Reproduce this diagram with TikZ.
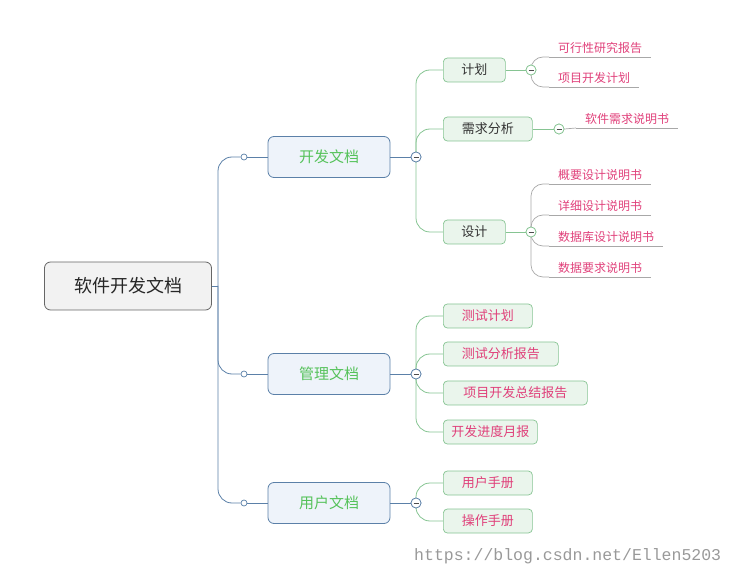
\documentclass[tikz,border=0pt]{standalone}
\usepackage{fontspec}
\setmainfont{Noto Sans CJK SC}
\newfontfamily\wm{Liberation Mono}
\definecolor{bblue}{HTML}{5B80A8}
\definecolor{bfill}{HTML}{EEF3FA}
\definecolor{gtext}{HTML}{55C25A}
\definecolor{gbord}{HTML}{86C492}
\definecolor{gfill}{HTML}{EAF5EC}
\definecolor{pink}{HTML}{E0407A}
\definecolor{lgray}{HTML}{A8A8A8}
\begin{document}
\begin{tikzpicture}[x=1pt,y=-1pt,
  rootbox/.style={draw=black!60,fill=black!5,rounded corners=6pt,minimum width=167pt,minimum height=48pt,font=\fontsize{18}{20}\selectfont,text=black!85,line width=0.8pt},
  lone/.style={draw=bblue,fill=bfill,rounded corners=6pt,minimum width=122pt,minimum height=41pt,font=\fontsize{15}{17}\selectfont,text=gtext,line width=0.8pt},
  ltwo/.style={draw=gbord,fill=gfill,rounded corners=4pt,minimum height=24pt,inner xsep=8pt,anchor=west,font=\fontsize{13}{15}\selectfont,text=black!80,line width=0.7pt},
  leaf/.style={anchor=south west,inner xsep=9pt,inner ysep=3pt,font=\fontsize{12}{14}\selectfont,text=pink},
  ul/.style={draw=lgray,line width=0.6pt},
  bl/.style={draw=bblue,line width=0.8pt},
  gl/.style={draw=gbord,line width=0.8pt},
  cl/.style={draw=lgray,line width=0.7pt},
  col/.style={circle,draw=#1,fill=white,minimum size=10pt,inner sep=0pt,line width=0.7pt,
    path picture={\draw[black!70,line width=0.9pt] ([xshift=-2.5pt]path picture bounding box.center) -- ([xshift=2.5pt]path picture bounding box.center);}},
  dot/.style={circle,draw=bblue,fill=white,minimum size=6pt,inner sep=0pt,line width=0.7pt}]
\useasboundingbox (0,0) rectangle (734,577);
% root
\node[rootbox] (root) at (128,286) {软件开发文档};
\coordinate (tr) at (218,286);
% level 1
\node[lone] (d) at (329,157) {开发文档};
\node[lone] (m) at (329,374) {管理文档};
\node[lone] (u) at (329,503) {用户文档};
\node[dot] (dd) at (244,157) {};
\node[dot] (dm) at (244,374) {};
\node[dot] (du) at (244,503) {};
\draw[bl] (root.east) -- (tr);
\foreach \a in {dd,dm,du}{\draw[bl,rounded corners=14pt] (tr) |- (\a.west);}
\draw[bl] (dd) -- (d.west); \draw[bl] (dm) -- (m.west); \draw[bl] (du) -- (u.west);
\node[col=bblue] (cd) at (416,157) {};
\node[col=bblue] (cm) at (416,374) {};
\node[col=bblue] (cu) at (416,503) {};
\draw[bl] (d.east) -- (cd.west); \draw[bl] (m.east) -- (cm.west); \draw[bl] (u.east) -- (cu.west);
% level 2
\node[ltwo,minimum width=62pt] (p) at (443,70) {计划};
\node[ltwo,minimum width=89pt] (r) at (443,129) {需求分析};
\node[ltwo,minimum width=62pt] (s) at (443,232) {设计};
\node[ltwo,minimum width=89pt,text=pink] (m1) at (443,316) {测试计划};
\node[ltwo,minimum width=115pt,text=pink] (m2) at (443,354) {测试分析报告};
\node[ltwo,minimum width=144pt,text=pink] (m3) at (443,393) {项目开发总结报告};
\node[ltwo,minimum width=89pt,text=pink] (m4) at (443,432) {开发进度月报};
\node[ltwo,minimum width=89pt,text=pink] (u1) at (443,483) {用户手册};
\node[ltwo,minimum width=89pt,text=pink] (u2) at (443,521) {操作手册};
\foreach \c/\k in {cd/p,cd/r,cd/s,cm/m1,cm/m2,cm/m3,cm/m4,cu/u1,cu/u2}{\draw[gl,rounded corners=14pt] (\c.center) |- (\k.west);}
\node[col=bblue] at (416,157) {};
\node[col=bblue] at (416,374) {};
\node[col=bblue] at (416,503) {};
% level 2 collapse
\node[col=gbord] (cp) at (531,70) {};
\node[col=gbord] (cr) at (559,129) {};
\node[col=gbord] (cs) at (531,232) {};
\draw[gl] (p.east) -- (cp.west); \draw[gl] (r.east) -- (cr.west); \draw[gl] (s.east) -- (cs.west);
% leaves
\node[leaf] (l1) at (549,57) {可行性研究报告};
\node[leaf] (l2) at (549,87) {项目开发计划};
\node[leaf] (l3) at (576,128) {软件需求说明书};
\node[leaf] (l4) at (549,184) {概要设计说明书};
\node[leaf] (l5) at (549,215) {详细设计说明书};
\node[leaf] (l6) at (549,246) {数据库设计说明书};
\node[leaf] (l7) at (549,277) {数据要求说明书};
\foreach \l in {l1,l2,l3,l4,l5,l6,l7}{\draw[ul] (\l.south west) -- (\l.south east);}
\foreach \c/\l in {cp/l1,cp/l2,cs/l4,cs/l5,cs/l6,cs/l7}{\draw[cl,rounded corners=12pt] (\c.center) |- (\l.south west);}
\draw[cl] (cr.east) -- (l3.south west);
\node[col=gbord] at (531,70) {};
\node[col=gbord] at (559,129) {};
\node[col=gbord] at (531,232) {};
% watermark
\node[anchor=west,text=black!40,font=\wm\fontsize{16.5}{18}\selectfont,inner sep=0pt] (wmk) at (414,556) {https://blog.csdn.net/Ellen5203};
\end{tikzpicture}
\end{document}
